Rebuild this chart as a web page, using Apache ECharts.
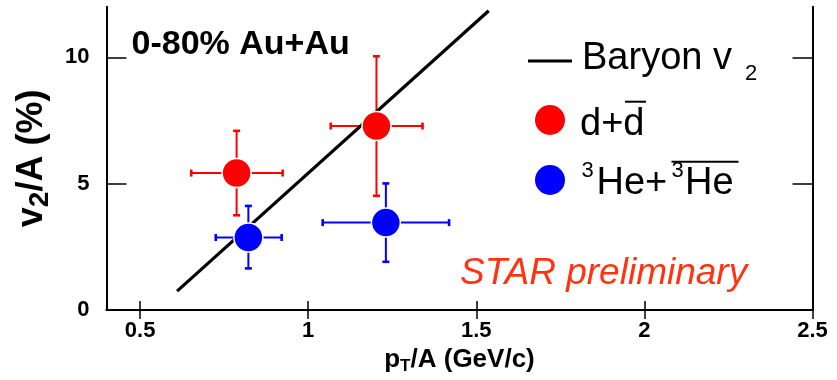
<!DOCTYPE html>
<html>
<head>
<meta charset="utf-8">
<script src="https://cdn.jsdelivr.net/npm/echarts@6/dist/echarts.min.js"></script>
<style>
  html, body { margin: 0; padding: 0; background: #fff; }
  #chart { width: 837px; height: 380px; }
</style>
</head>
<body>
<div id="chart"></div>
<script>
// d + anti-d : v2/A versus pT/A with x / y uncertainties
const dX     = [0.787, 1.203];
const dY     = [5.42, 7.28];
const dXLow  = [0.652, 1.067];
const dXHigh = [0.924, 1.340];
const dYLow  = [3.75, 4.52];
const dYHigh = [7.09, 10.04];

// 3He + anti-3He
const heX     = [0.822, 1.231];
const heY     = [2.87, 3.46];
const heXLow  = [0.725, 1.043];
const heXHigh = [0.921, 1.419];
const heYLow  = [1.65, 1.91];
const heYHigh = [4.12, 5.01];

// baryon v2 reference curve
const baryonX = [0.61, 1.537];
const baryonY = [0.75, 11.84];

// axis ticks
const xTicks = [0.5, 1, 1.5, 2, 2.5];
const xTickLabels = ['0.5', '1', '1.5', '2', '2.5'];
const yTicks = [0, 5, 10];
const yTickLabels = ['0', '5', '10'];

const FONT = '"Liberation Sans", Arial, Helvetica, sans-serif';
const RED = '#ff0000';
const BLUE = '#0000ff';

function rows(x, y, xl, xh, yl, yh) {
  return x.map((v, i) => [v, y[i], xl[i], xh[i], yl[i], yh[i]]);
}

function errorBars(color) {
  return function (params, api) {
    const c = api.coord([api.value(0), api.value(1)]);
    const l = api.coord([api.value(2), api.value(1)]);
    const r = api.coord([api.value(3), api.value(1)]);
    const b = api.coord([api.value(0), api.value(4)]);
    const t = api.coord([api.value(0), api.value(5)]);
    const cap = 3.5;
    const bar = { stroke: color, lineWidth: 2 };
    const capStyle = { stroke: color, lineWidth: 2.6 };
    return {
      type: 'group',
      children: [
        { type: 'line', shape: { x1: l[0], y1: c[1], x2: r[0], y2: c[1] }, style: bar },
        { type: 'line', shape: { x1: c[0], y1: b[1], x2: c[0], y2: t[1] }, style: bar },
        { type: 'line', shape: { x1: l[0], y1: c[1] - cap, x2: l[0], y2: c[1] + cap }, style: capStyle },
        { type: 'line', shape: { x1: r[0], y1: c[1] - cap, x2: r[0], y2: c[1] + cap }, style: capStyle },
        { type: 'line', shape: { x1: c[0] - cap, y1: b[1], x2: c[0] + cap, y2: b[1] }, style: capStyle },
        { type: 'line', shape: { x1: c[0] - cap, y1: t[1], x2: c[0] + cap, y2: t[1] }, style: capStyle }
      ]
    };
  };
}

function txt(text, x, y, font, fill) {
  return {
    type: 'text', x: x, y: y, z: 20,
    style: { text: text, font: font, fill: fill || '#000', align: 'left', verticalAlign: 'middle' }
  };
}

const axisLineStyle = { color: '#000', width: 2 };
const tickStyle = { color: '#000', width: 1.5 };

const chart = echarts.init(document.getElementById('chart'), null, { renderer: 'canvas' });

chart.setOption({
  animation: false,
  backgroundColor: '#fff',
  grid: { left: 106.5, top: 6.7, width: 706, height: 305, containLabel: false },
  xAxis: [
    {
      type: 'value', min: 0.4, max: 2.5, position: 'bottom',
      axisLine: { show: true, lineStyle: axisLineStyle },
      axisTick: { show: true, inside: true, length: 9, customValues: xTicks, lineStyle: tickStyle },
      axisLabel: {
        customValues: xTicks, margin: 10, color: '#000',
        fontFamily: FONT, fontWeight: 'bold', fontSize: 22,
        formatter: v => xTickLabels[xTicks.indexOf(v)]
      },
      splitLine: { show: false },
      name: '{m|p}{s|T}{m|/A (GeV/c)}',
      nameLocation: 'middle', nameGap: 30,
      nameTextStyle: {
        rich: {
          m: { fontFamily: FONT, fontWeight: 'bold', fontSize: 26, lineHeight: 30, color: '#000', verticalAlign: 'middle' },
          s: { fontFamily: FONT, fontWeight: 'bold', fontSize: 17, lineHeight: 15, color: '#000', verticalAlign: 'bottom' }
        }
      }
    },
    {
      type: 'value', min: 0.4, max: 2.5, position: 'top',
      axisLine: { show: true, lineStyle: axisLineStyle },
      axisTick: { show: true, inside: true, length: 9, customValues: xTicks, lineStyle: tickStyle },
      axisLabel: { show: false },
      splitLine: { show: false }
    }
  ],
  yAxis: [
    {
      type: 'value', min: 0, max: 12, position: 'left',
      axisLine: { show: true, lineStyle: axisLineStyle },
      axisTick: { show: true, inside: true, length: 20, customValues: yTicks, lineStyle: tickStyle },
      axisLabel: {
        customValues: yTicks, margin: 17, color: '#000',
        fontFamily: FONT, fontWeight: 'bold', fontSize: 22,
        formatter: v => yTickLabels[yTicks.indexOf(v)]
      },
      splitLine: { show: false },
      name: '{m|v}{s|2}{m|/A (%)}',
      nameLocation: 'middle', nameRotate: 90, nameGap: 52,
      nameTextStyle: {
        rich: {
          m: { fontFamily: FONT, fontWeight: 'bold', fontSize: 36, lineHeight: 44, color: '#000', verticalAlign: 'middle' },
          s: { fontFamily: FONT, fontWeight: 'bold', fontSize: 28, lineHeight: 22, color: '#000', verticalAlign: 'bottom' }
        }
      }
    },
    {
      type: 'value', min: 0, max: 12, position: 'right',
      axisLine: { show: true, lineStyle: axisLineStyle },
      axisTick: { show: true, inside: true, length: 20, customValues: yTicks, lineStyle: tickStyle },
      axisLabel: { show: false },
      splitLine: { show: false }
    }
  ],
  series: [
    {
      name: 'Baryon v2', type: 'line', xAxisIndex: 0, yAxisIndex: 0,
      data: baryonX.map((x, i) => [x, baryonY[i]]),
      showSymbol: false, silent: true, z: 3,
      lineStyle: { color: '#000', width: 3.2 }
    },
    {
      name: 'd errors', type: 'custom', xAxisIndex: 0, yAxisIndex: 0, z: 2,
      renderItem: errorBars(RED), encode: { x: 0, y: 1 },
      data: rows(dX, dY, dXLow, dXHigh, dYLow, dYHigh)
    },
    {
      name: 'He errors', type: 'custom', xAxisIndex: 0, yAxisIndex: 0, z: 2,
      renderItem: errorBars(BLUE), encode: { x: 0, y: 1 },
      data: rows(heX, heY, heXLow, heXHigh, heYLow, heYHigh)
    },
    {
      name: 'd+dbar', type: 'scatter', xAxisIndex: 0, yAxisIndex: 0, z: 5,
      symbol: 'circle', symbolSize: 29,
      itemStyle: { color: RED, borderColor: '#fff', borderWidth: 1.5, opacity: 1 },
      data: dX.map((x, i) => [x, dY[i]])
    },
    {
      name: '3He+3Hebar', type: 'scatter', xAxisIndex: 0, yAxisIndex: 0, z: 5,
      symbol: 'circle', symbolSize: 29,
      itemStyle: { color: BLUE, borderColor: '#fff', borderWidth: 1.5, opacity: 1 },
      data: heX.map((x, i) => [x, heY[i]])
    }
  ],
  graphic: [
    // centrality / system tag
    txt('0-80% Au+Au', 131.5, 45, 'bold 34px ' + FONT),
    // legend: baryon curve
    { type: 'line', z: 20, shape: { x1: 528, y1: 61, x2: 572, y2: 61 }, style: { stroke: '#000', lineWidth: 3 } },
    txt('Baryon v', 582, 58.5, '38px ' + FONT),
    txt('2', 745, 74, '22px ' + FONT),
    // legend: deuterons
    { type: 'circle', z: 20, shape: { cx: 550, cy: 120, r: 15 }, style: { fill: RED } },
    txt('d+d', 580, 125, '38px ' + FONT),
    { type: 'line', z: 20, shape: { x1: 625, y1: 101.7, x2: 646, y2: 101.7 }, style: { stroke: '#000', lineWidth: 2 } },
    // legend: helium-3
    { type: 'circle', z: 20, shape: { cx: 550, cy: 180, r: 15 }, style: { fill: BLUE } },
    txt('3', 581.5, 171, '22px ' + FONT),
    txt('He+', 596.5, 184, '38px ' + FONT),
    txt('3', 671.5, 171, '22px ' + FONT),
    txt('He', 685, 184, '38px ' + FONT),
    { type: 'line', z: 20, shape: { x1: 671.5, y1: 161.7, x2: 738.5, y2: 161.7 }, style: { stroke: '#000', lineWidth: 2 } },
    // preliminary tag
    txt('STAR preliminary', 460, 274, 'italic 37px ' + FONT, '#ff3311')
  ]
});
</script>
</body>
</html>
